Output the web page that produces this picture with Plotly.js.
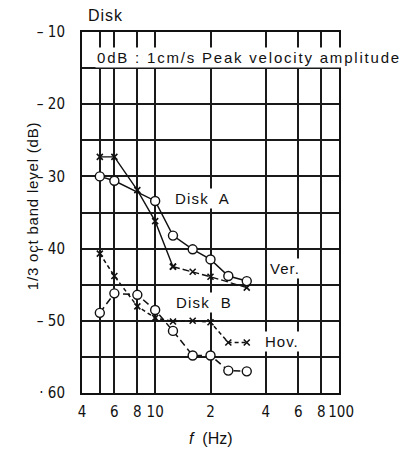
<!DOCTYPE html>
<html>
<head>
<meta charset="utf-8">
<script src="https://cdn.plot.ly/plotly-3.0.1.min.js"></script>
<style>html,body{margin:0;padding:0;background:#fff;}#chart{width:402px;height:452px;}</style>
</head>
<body>
<div id="chart"></div>
<script>
// Frequencies (Hz), 1/3 octave bands
var freqA = [5, 6, 10, 12.5, 16, 20, 25, 31.5];
var verA  = [-30.0, -30.6, -33.4, -38.2, -40.1, -41.5, -43.8, -44.5];     // Disk A, circles
var freqAx = [5, 6, 8, 10, 12.5, 16, 20, 31.5];
var verAx = [-27.3, -27.3, -31.9, -36.2, -42.5, -43.2, -43.9, -45.4];     // Ver., crosses
var freqB = [5, 6, 8, 10, 12.5, 16, 20, 25, 31.5];
var hovBx = [-40.7, -43.8, -48.0, -49.6, -50.1, -50.0, -50.2, -53.0, -53.0]; // Hov., crosses
var diskB = [-48.9, -46.2, -46.4, -48.5, -51.4, -54.8, -54.8, -56.9, -57.0]; // Disk B, circles

var xTickVals = [4, 5, 6, 8, 10, 20, 40, 60, 80, 100];
var xTickText = ['4', '', '6', '8', '10', '2', '4', '6', '8', ' 100'];
var yTickVals = [-10, -15, -20, -25, -30, -35, -40, -45, -50, -55, -60];
var yTickText = ['– 10', '', '– 20', '', '– 30', '', '– 40', '', '– 50', '', '· 60'];

var circ = {symbol: 'circle', size: 9, color: '#fff', line: {color: '#111', width: 1.4}};
var crs = {symbol: 'x-thin-open', size: 6, color: '#111', line: {color: '#111', width: 1.6}};

var traces = [
  {x: freqAx.slice(0, 5), y: verAx.slice(0, 5), mode: 'lines+markers', line: {color: '#111', width: 1.4}, marker: crs},
  {x: freqAx.slice(4), y: verAx.slice(4), mode: 'lines+markers', line: {color: '#111', width: 1.4, dash: '7px,3px'}, marker: crs},
  {x: freqA, y: verA, mode: 'lines+markers', line: {color: '#111', width: 1.5}, marker: circ},
  {x: freqB, y: hovBx, mode: 'lines+markers', line: {color: '#111', width: 1.5, dash: '4px,3px'}, marker: crs},
  {x: freqB, y: diskB, mode: 'lines+markers', line: {color: '#111', width: 1.5, dash: '7px,4px'}, marker: circ}
];

var tickFont = {family: 'Liberation Sans Narrow, DejaVu Sans Condensed, Liberation Sans, Arial', size: 15, color: '#111'};
var lblFont = {family: 'Liberation Sans, Arial, sans-serif', size: 15, color: '#111'};
function sp(t, s) { return '<span style="letter-spacing:' + s + 'px">' + t + '</span>'; }

var layout = {
  width: 402, height: 452,
  margin: {l: 82, r: 63, t: 32, b: 59},
  paper_bgcolor: '#fff', plot_bgcolor: 'rgba(0,0,0,0)',
  showlegend: false,
  xaxis: {
    type: 'log', range: [Math.log10(4), 2],
    tickmode: 'array', tickvals: xTickVals, ticktext: xTickText, tickangle: 0,
    showgrid: true, gridcolor: '#1a1a1a', gridwidth: 2,
    showline: true, linecolor: '#111', linewidth: 2, mirror: true,
    ticks: 'outside', ticklen: 4, tickcolor: '#fff', tickfont: tickFont, zeroline: false
  },
  yaxis: {
    range: [-60, -10],
    tickmode: 'array', tickvals: yTickVals, ticktext: yTickText,
    showgrid: true, gridcolor: '#1a1a1a', gridwidth: 2,
    showline: true, linecolor: '#111', linewidth: 2, mirror: true,
    ticks: 'outside', ticklen: 12, tickcolor: '#fff', tickfont: tickFont, zeroline: false
  },
  annotations: [
    {xref: 'paper', yref: 'paper', x: 0.016, y: 1.047, xanchor: 'left', yanchor: 'middle',
     text: sp('Disk', 1), showarrow: false, font: {family: 'Liberation Sans, Arial, sans-serif', size: 16, color: '#111'}},
    {xref: 'paper', yref: 'paper', x: 0.05, y: 0.928, xanchor: 'left', yanchor: 'middle',
     text: sp('0dB : 1cm/s Peak velocity amplitude', 1.8), showarrow: false,
     font: lblFont, bgcolor: '#fff', borderpad: 1},
    {xref: 'paper', yref: 'paper', x: -0.195, y: 0.52, xanchor: 'center', yanchor: 'middle',
     textangle: -90, text: sp('1/3 oct band level (dB)', 0.8), showarrow: false, font: lblFont},
    {xref: 'paper', yref: 'paper', x: 0.50, y: -0.125, xanchor: 'center', yanchor: 'middle',
     text: '<i>f</i>  (Hz)', showarrow: false, font: {family: 'Liberation Sans, Arial, sans-serif', size: 16, color: '#111'}},
    {x: Math.log10(18.2), y: -33.0, text: sp('Disk  A', 1.2), showarrow: false, font: lblFont, bgcolor: '#fff'},
    {x: Math.log10(51), y: -42.7, text: sp('Ver.', 1), showarrow: false, font: lblFont, bgcolor: '#fff'},
    {x: Math.log10(18.5), y: -47.5, text: sp('Disk  B', 1.2), showarrow: false, font: lblFont, bgcolor: '#fff'},
    {x: Math.log10(49), y: -52.9, text: sp('Hov.', 1), showarrow: false, font: lblFont, bgcolor: '#fff'}
  ]
};

Plotly.newPlot('chart', traces, layout, {displayModeBar: false});
</script>
</body>
</html>
